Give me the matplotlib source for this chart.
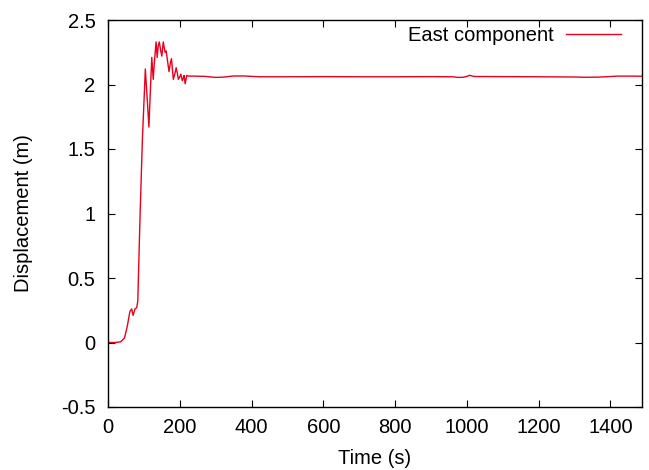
import matplotlib
matplotlib.use("Agg")
import matplotlib.pyplot as plt

# East component displacement
time_s = [0, 20, 35, 46, 54, 61, 66, 70, 75, 80, 83, 89, 96, 100, 104,
          109, 114, 118, 122, 126, 130, 134, 137, 140, 143, 147, 150, 154,
          159, 162, 166, 170, 174, 177, 180, 182, 186, 190, 193, 196, 200,
          203, 207, 210, 212, 215, 219.5, 225, 240, 270, 300, 320, 350, 380,
          420, 500, 600, 700, 800, 900, 960, 975, 990, 1000, 1008, 1020,
          1100, 1200, 1300, 1330, 1365, 1400, 1420, 1460, 1490]
east_m = [0.0, 0.0, 0.005, 0.035, 0.13, 0.24, 0.26, 0.21, 0.26, 0.27,
          0.32, 0.95, 1.59, 1.85, 2.12, 1.9, 1.67, 1.95, 2.21, 2.04, 2.2,
          2.33, 2.21, 2.3, 2.33, 2.26, 2.22, 2.33, 2.25, 2.26, 2.18, 2.10,
          2.17, 2.20, 2.10, 2.04, 2.08, 2.13, 2.09, 2.04, 2.06, 2.08, 2.03,
          2.05, 2.07, 2.005, 2.07, 2.065, 2.065, 2.063, 2.055, 2.057, 2.066,
          2.066, 2.06, 2.06, 2.061, 2.06, 2.06, 2.061, 2.06, 2.055, 2.056,
          2.063, 2.071, 2.062, 2.061, 2.06, 2.058, 2.056, 2.057, 2.062,
          2.065, 2.065, 2.064]

plt.rcParams['font.family'] = ['Liberation Sans', 'DejaVu Sans']
plt.rcParams['font.size'] = 14.5

fig = plt.figure(figsize=(6.49, 4.70), dpi=100)
ax = fig.add_axes([108 / 649, 63 / 470, (642 - 108) / 649, (407 - 20) / 470])

ax.plot(time_s, east_m, color='#e8001c', lw=1.0, label='East component')

ax.set_xlim(0, 1488)
ax.set_ylim(-0.5, 2.5)
ax.set_xticks(range(0, 1401, 200))
ax.set_yticks([-0.5, 0, 0.5, 1, 1.5, 2, 2.5])
ax.set_yticklabels(['-0.5', '0', '0.5', '1', '1.5', '2', '2.5'])
ax.tick_params(direction='in', top=True, right=True, length=5, width=0.8)
ax.tick_params(axis='x', pad=8)
ax.tick_params(axis='y', pad=9)
for s in ax.spines.values():
    s.set_linewidth(1.0)

ax.set_xlabel('Time (s)', va='center')
ax.set_ylabel('Displacement (m)', va='center')
ax.xaxis.set_label_coords(0.5, (407 - 459) / 387)
ax.yaxis.set_label_coords((24 - 108) / 534, 0.5)

ax.legend(loc='upper right', frameon=False, markerfirst=False,
          bbox_to_anchor=((621 - 108) / 534, (407 - 26) / 387),
          handlelength=2.75, borderaxespad=0.0, handletextpad=0.6,
          borderpad=0.0)

fig.savefig('out.png', dpi=100)
